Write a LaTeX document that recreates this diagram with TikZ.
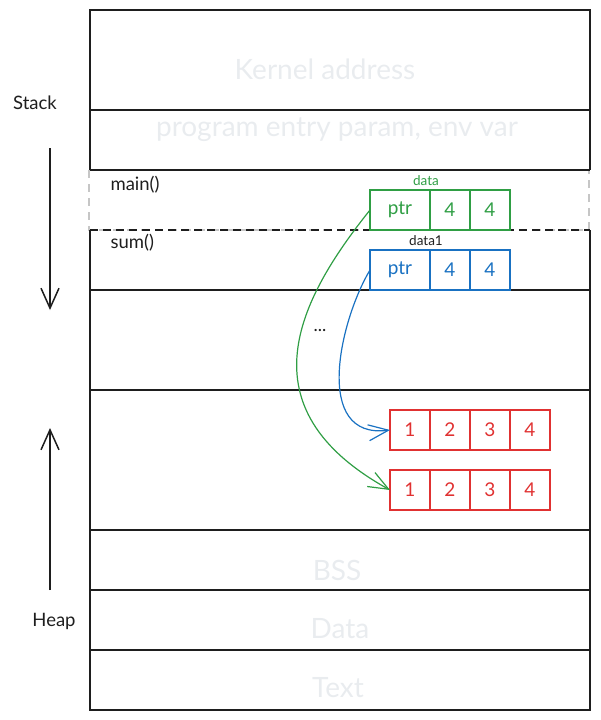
\documentclass[tikz,border=0pt]{standalone}
\usepackage{fontspec}
\setmainfont{Lato}
\usetikzlibrary{positioning,arrows.meta}
\definecolor{exgreen}{HTML}{2F9E44}
\definecolor{exblue}{HTML}{1971C2}
\definecolor{exred}{HTML}{E03131}
\definecolor{exgray}{HTML}{E9ECEF}
\definecolor{exink}{HTML}{1E1E1E}
\tikzset{
  cell/.style={draw,minimum width=40pt,minimum height=40pt,inner sep=0pt,outer sep=0pt,
    line width=1.2pt,font=\fontsize{19}{19}\selectfont},
  ptrcell/.style={cell,minimum width=60pt},
  seglabel/.style={text=exgray,font=\fontsize{28}{28}\selectfont},
  framelabel/.style={text=exink,anchor=west,font=\fontsize{18.5}{18.5}\selectfont},
  wall/.style={exink,line width=1.5pt},
  growarrow/.style={exink,line width=1.5pt,-{Straight Barb[length=20pt,width=18pt]}},
  refer/.style={line width=1.2pt,-{Straight Barb[length=20pt,width=16pt]}}
}

\begin{document}
\begin{tikzpicture}[x=1pt,y=-1pt]
  \useasboundingbox (0,0) rectangle (600,720);
  % address space
  \draw[gray!45,line width=1.5pt,dash pattern=on 8pt off 6pt] (89,170) rectangle (589,230);
  \draw[wall] (90,170) -- (90,10) -- (590,10) -- (590,170);
  \draw[wall] (90,230) -- (90,710) -- (590,710) -- (590,230);
  \foreach \y in {110,170,290,390,530,590,650}
    \draw[wall] (90,\y) -- (590,\y);
  \draw[wall,dash pattern=on 8pt off 5pt] (90,230) -- (590,230);

  \node[seglabel] (kernel) at (325,69) {Kernel address};
  \node[seglabel] (entry) at (337,130) {program entry param, env var};
  \node[seglabel] (bss) at (337,570) {BSS};
  \node[seglabel] (dataseg) at (340,629) {Data};
  \node[seglabel] (textseg) at (338,688) {Text};

  \node[framelabel] (mainfn) at (107,185) {main()};
  \node[framelabel] (sumfn) at (107,243) {sum()};
  \node[text=exink,font=\fontsize{18}{18}\selectfont] (dots) at (320,331) {...};

  % growth directions
  \node[text=exink,font=\fontsize{18.5}{18.5}\selectfont] (stack) at (35,103) {Stack};
  \node[text=exink,font=\fontsize{18.5}{18.5}\selectfont] (heap) at (54,621) {Heap};
  \coordinate (sdown1) at (50,148);
  \coordinate (sdown2) at (50,310);
  \coordinate (hup1) at (50,590);
  \coordinate (hup2) at (50,428);
  \draw[growarrow] (sdown1) -- (sdown2);
  \draw[growarrow] (hup1) -- (hup2);

  % slices on the stack
  \node[ptrcell,exgreen] (gptr) at (400,210) {ptr};
  \node[cell,exgreen,right=0pt of gptr] (glen) {4};
  \node[cell,exgreen,right=0pt of glen] (gcap) {4};
  \node[exgreen,font=\fontsize{13.5}{13.5}\selectfont] (gname) at (426,181) {data};

  \node[ptrcell,exblue] (bptr) at (400,270) {ptr};
  \node[cell,exblue,right=0pt of bptr] (blen) {4};
  \node[cell,exblue,right=0pt of blen] (bcap) {4};
  \node[text=exink,font=\fontsize{13.5}{13.5}\selectfont] (bname) at (426,241) {data1};

  % arrays on the heap
  \node[cell,exred] (ra1) at (410,430) {1};
  \foreach \i [count=\j from 1] in {2,3,4}
    \node[cell,exred,right=0pt of ra\j] (ra\i) {\i};
  \node[cell,exred] (rb1) at (410,490) {1};
  \foreach \i [count=\j from 1] in {2,3,4}
    \node[cell,exred,right=0pt of rb\j] (rb\i) {\i};

  % pointers
  \draw[refer,exblue] (bptr.west) .. controls (340,320) and (312,440) .. (ra1.west);
  \draw[refer,exgreen] (gptr.west) .. controls (298,300) and (242,408) .. (rb1.west);
\end{tikzpicture}
\end{document}
